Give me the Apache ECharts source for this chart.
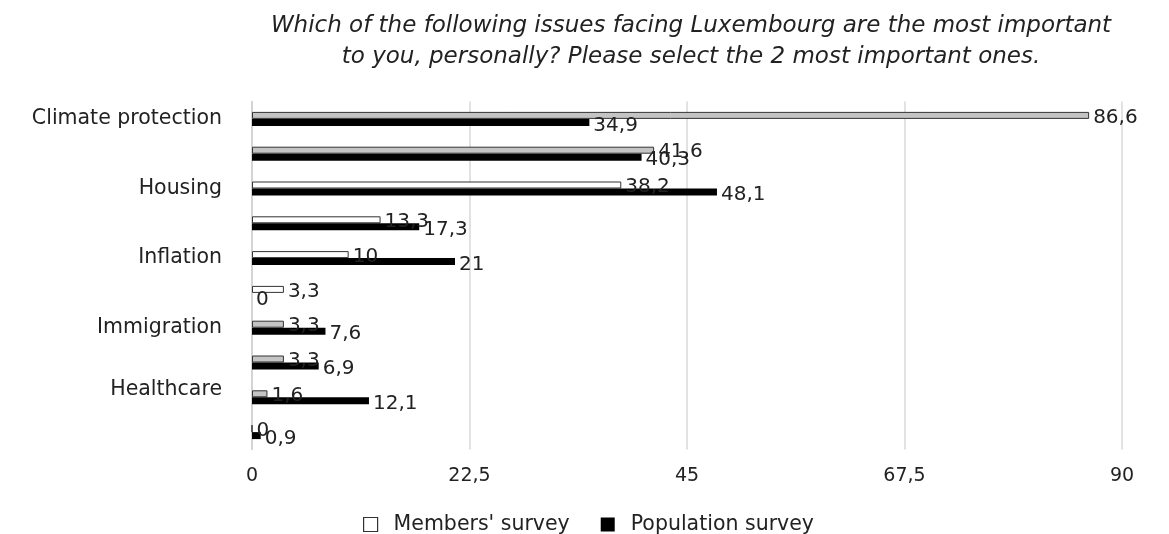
<!DOCTYPE html>
<html><head><meta charset="utf-8">
<script src="https://cdn.jsdelivr.net/npm/echarts@6/dist/echarts.min.js"></script>
<style>html,body{margin:0;padding:0;background:#fff}#c{width:1169px;height:534px}</style>
</head><body><div id="c"></div>
<script>
const categories = ['Climate protection', 'Issue 2', 'Housing', 'Issue 4', 'Inflation', 'Issue 6', 'Immigration', 'Issue 8', 'Healthcare', 'Issue 10'];
const membersSurvey = [86.6, 41.6, 38.2, 13.3, 10, 3.3, 3.3, 3.3, 1.6, 0];
const populationSurvey = [34.9, 40.3, 48.1, 17.3, 21, 0, 7.6, 6.9, 12.1, 0.9];
const xTicks = [0, 22.5, 45, 67.5, 90];
const seriesNames = ["Members' survey", 'Population survey'];
const titleText = 'Which of the following issues facing Luxembourg are the most important\nto you, personally? Please select the 2 most important ones.';

const fmt = v => String(v).replace('.', ',');
const chart = echarts.init(document.getElementById('c'));
const FONT = '"DejaVu Sans", "Liberation Sans", Arial, sans-serif';
const grayIdx = new Set([0, 1, 6, 7, 8]);
chart.setOption({
  animation: false,
  textStyle: { fontFamily: FONT },
  title: {
    text: titleText, left: 686, top: 6, textAlign: 'center',
    textStyle: { fontFamily: FONT, fontStyle: 'italic', fontWeight: 'normal', fontSize: 23, lineHeight: 31, color: '#222' }
  },
  legend: {
    top: 509, left: 358, itemWidth: 14, itemHeight: 14, itemGap: 31,
    textStyle: { fontFamily: FONT, fontSize: 20.5, color: '#222', padding: [0, 0, 0, 11] },
    data: [
      { name: seriesNames[0], icon: 'rect', itemStyle: { color: '#fff', borderColor: '#333', borderWidth: 1.2 } },
      { name: seriesNames[1], icon: 'rect', itemStyle: { color: '#000' } }
    ]
  },
  grid: { left: 252, right: 47, top: 101.5, bottom: 84.5, containLabel: false },
  xAxis: {
    type: 'value', min: 0, max: 90, interval: 22.5,
    axisLine: { show: false }, axisTick: { show: false },
    splitLine: { show: true, lineStyle: { color: '#d8d8d8', width: 1.5 } },
    axisLabel: { margin: 17, fontSize: 19, color: '#222', fontFamily: FONT, formatter: v => xTicks.includes(v) ? fmt(v) : '' }
  },
  yAxis: {
    type: 'category', data: categories, inverse: true,
    axisLine: { show: true, lineStyle: { color: '#cfcfcf', width: 1.5 } },
    axisTick: { show: false },
    axisLabel: {
      interval: 1, margin: 30, fontSize: 20.5, color: '#222', fontFamily: FONT,
      formatter: v => v === 'Healthcare' ? '{up|' + v + '}' : v,
      rich: { up: { fontSize: 20.5, color: '#222', fontFamily: FONT, padding: [0, 0, 16, 0] } }
    }
  },
  series: [
    {
      name: seriesNames[0], type: 'bar', data: membersSurvey, barWidth: 7, barGap: '0%',
      itemStyle: { color: p => grayIdx.has(p.dataIndex) ? '#c4c4c4' : '#fff', borderColor: '#333', borderWidth: 1 },
      label: { show: true, position: 'right', distance: 4, fontSize: 20, color: '#222', fontFamily: FONT, offset: [0, 2], formatter: p => fmt(p.value) }
    },
    {
      name: seriesNames[1], type: 'bar', data: populationSurvey, barWidth: 7, barGap: '0%',
      itemStyle: { color: '#000' },
      label: { show: true, position: 'right', distance: 4, fontSize: 20, color: '#222', fontFamily: FONT, offset: [0, 3], formatter: p => fmt(p.value) }
    }
  ]
});
</script></body></html>
